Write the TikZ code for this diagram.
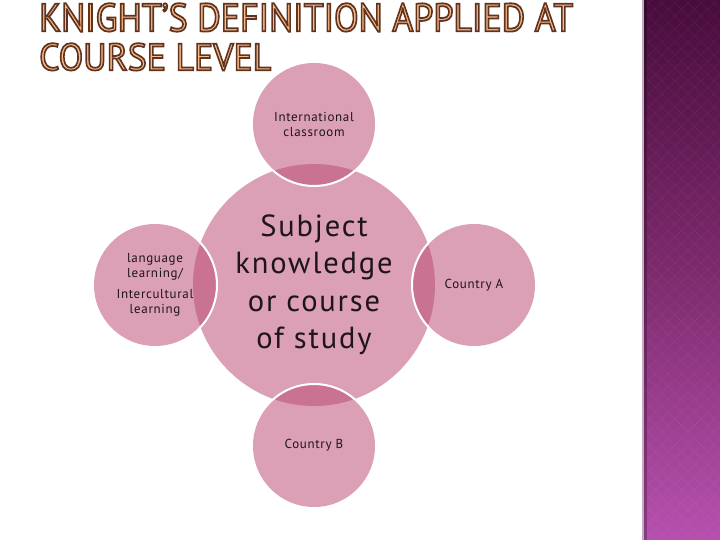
\documentclass[tikz,border=0pt]{standalone}
\usepackage{fontspec}
\setmainfont{PT Sans}
\definecolor{pinkc}{RGB}{219,160,181}
\definecolor{lensc}{RGB}{201,114,146}
\definecolor{titlefill}{RGB}{246,190,140}
\definecolor{ptop}{RGB}{72,12,60}
\definecolor{pmid}{RGB}{125,42,108}
\definecolor{pbot}{RGB}{182,80,174}
\definecolor{pedge}{RGB}{196,170,196}
\definecolor{txt}{RGB}{30,20,25}
\newcommand{\outlinetext}[1]{\special{pdf:literal direct 2 Tr 0.45 w 0.38 0.2 0.12 RG}#1\special{pdf:literal direct 0 Tr}}
\begin{document}
\begin{tikzpicture}[x=1pt,y=-1pt,
  outer/.style={circle, minimum size=122pt, inner sep=0pt, fill=pinkc, text=txt, align=center,
    font=\fontsize{13}{15}\selectfont\addfontfeatures{LetterSpace=5}},
  lens/.style={fill=lensc},
  rim/.style={draw=white, line width=2pt}]
\useasboundingbox (0,0) rectangle (720,540);
\fill[white] (0,0) rectangle (720,540);
% side panel
\shade[top color=ptop, bottom color=pbot, middle color=pmid] (643,0) rectangle (720,540);
\begin{scope}
  \clip (646,0) rectangle (720,540);
  \foreach \k in {-5,...,60}
    {\draw[white, opacity=0.04, line width=0.8pt] (600+\k*13,0) -- ++(-540,540);
     \draw[white, opacity=0.04, line width=0.8pt] (100+\k*13,0) -- ++(540,540);}
\end{scope}
\fill[pedge] (642,0) rectangle (644,540);
\fill[black, opacity=0.25] (644,0) rectangle (647,540);
% title
\node[anchor=north west, inner sep=0pt] (title1) at (39,3)
  {\resizebox{534pt}{28pt}{\textcolor{titlefill}{\outlinetext{KNIGHT’S DEFINITION APPLIED AT}}}};
\node[anchor=north west, inner sep=0pt] (title2) at (39,43)
  {\resizebox{232pt}{27pt}{\textcolor{titlefill}{\outlinetext{COURSE LEVEL}}}};
% centre circle
\node[circle, minimum size=242pt, inner sep=0pt, fill=pinkc, text=txt, align=center,
  font=\fontsize{30.5}{37.5}\selectfont\addfontfeatures{LetterSpace=6}] (c) at (314,285) {Subject\\knowledge\\or course\\of study};
% outer circles
\node[outer] (t) at (314,124) {International\\classroom};
\node[outer] (l) at (155,285) {language\\learning/\\[6pt]Intercultural\\learning};
\node[outer] (r) at (474,285) {Country A};
\node[outer] (b) at (314,446) {\raisebox{4pt}{Country B}};
\begin{scope}
  \clip (c.center) circle[radius=121pt];
  \foreach \n in {t,l,r,b} {\fill[lens] (\n.center) circle[radius=61pt];}
\end{scope}
\begin{scope}
  \clip (c.center) circle[radius=122pt];
  \foreach \n in {t,l,r,b} {\draw[rim] (\n.center) circle[radius=62pt];}
\end{scope}
\end{tikzpicture}
\end{document}
